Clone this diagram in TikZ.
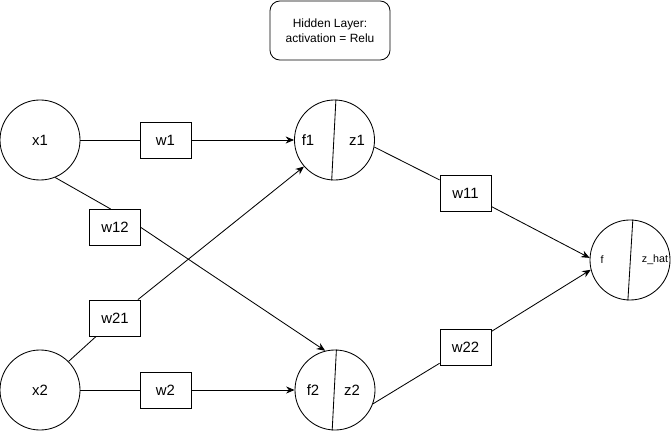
\documentclass[tikz,border=0pt]{standalone}
\usepackage{fontspec}
\setmainfont{Liberation Sans}
\usetikzlibrary{arrows.meta}

\begin{document}
\begin{tikzpicture}[x=0.025cm,y=-0.025cm,>={Stealth[length=6pt,width=5pt]},line width=0.6pt,
  unit/.style={draw,circle,minimum size=2cm,inner sep=0pt},
  weight/.style={draw,minimum width=1.275cm,minimum height=0.9cm,inner sep=0pt,font=\fontsize{10.6}{12}\selectfont},
  tag/.style={inner sep=0pt,font=\fontsize{10.6}{12}\selectfont},
  small/.style={inner sep=0pt,font=\fontsize{7.6}{9}\selectfont}]
  \useasboundingbox (0,0) rectangle (671,432);
  % inputs
  \node[unit,font=\fontsize{10.6}{12}\selectfont] (x1) at (40,140) {x1};
  \node[unit,font=\fontsize{10.6}{12}\selectfont] (x2) at (40,390) {x2};
  % weights
  \node[weight] (w1) at (165.5,140) {w1};
  \node[weight] (w12) at (115,227.5) {w12};
  \node[weight] (w21) at (115,318) {w21};
  \node[weight] (w2) at (165.5,390) {w2};
  \node[weight] (w11) at (465.5,193) {w11};
  \node[weight] (w22) at (465.5,347.5) {w22};
  % hidden units
  \node[unit] (h1) at (334.5,140) {};
  \node[unit] (h2) at (335,390) {};
  \node[unit] (out) at (630,260) {};
  \draw (h1.88) -- (h1.-94);
  \draw (h2.88) -- (h2.-94);
  \draw (out.86) -- (out.-93);
  \node[tag] (f1) at (308,140) {f1};
  \node[tag] (z1) at (357,140) {z1};
  \node[tag] (f2) at (313,390) {f2};
  \node[tag] (z2) at (352,390) {z2};
  \node[small] (f) at (602,260) {f};
  \node[small] (zhat) at (655,260) {z\_hat};
  % note
  \node[draw,rounded corners=7pt,minimum width=3cm,minimum height=1.475cm,align=center,font=\fontsize{8.5}{10.6}\selectfont] (hid) at (330,30.5) {Hidden Layer:\\activation = Relu};
  % connections
  \draw (x1) -- (w1);
  \draw[->] (w1) -- (h1);
  \draw (x2) -- (w2);
  \draw[->] (w2) -- (h2);
  \draw (x1.-68) -- ([xshift=-3pt]w12.north);
  \draw[->] (w12.east) -- (h2.104);
  \draw (x2.45) -- ([xshift=5pt]w21.south west);
  \draw[->] (w21) -- (h1.221);
  \draw (h1.-10) -- (w11);
  \draw[->] (w11) -- (out.177);
  \draw (h2.-20) -- (w22);
  \draw[->] (w22) -- (out.194);
\end{tikzpicture}
\end{document}
